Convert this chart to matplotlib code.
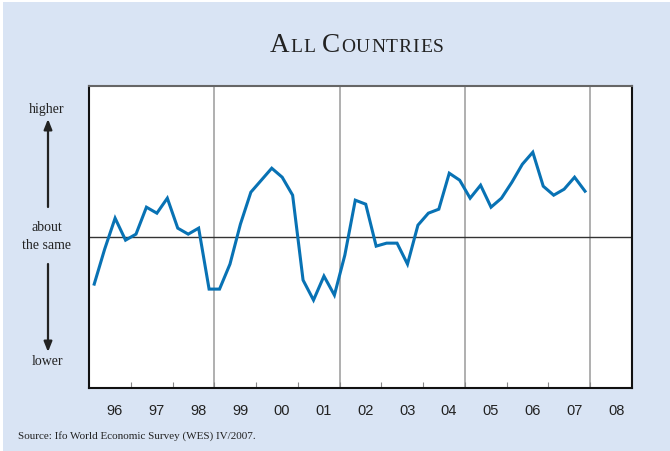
import matplotlib
matplotlib.use("Agg")
import matplotlib.pyplot as plt
import numpy as np
from matplotlib.patches import Rectangle, FancyArrowPatch

# Quarterly survey results, 1996 Q1 - 2007 Q4 (0 = about the same)
start_year = 1996
climate = [
    -47, -12, 19, -3, 3, 30, 24, 39,
    9, 3, 9, -52, -52, -27, 13, 45,
    57, 69, 60, 42, -43, -63, -39, -58,
    -18, 37, 33, -9, -6, -6, -27, 12,
    24, 28, 64, 57, 39, 52, 30, 39,
    55, 73, 85, 51, 42, 48, 60, 46,
]
year_labels = ["96", "97", "98", "99", "00", "01", "02", "03",
               "04", "05", "06", "07", "08"]
divider_years = [1999, 2002, 2005, 2008]

W, H = 670, 452
panel = "#d9e4f4"
fig = plt.figure(figsize=(W / 100, H / 100), dpi=100, facecolor=panel)
# thin white margin along the top and left edges
fig.patches.append(Rectangle((0, 1 - 3 / H), 1, 3 / H, transform=fig.transFigure,
                             facecolor="white", edgecolor="none", zorder=-5))
fig.patches.append(Rectangle((0, 0), 3 / W, 1, transform=fig.transFigure,
                             facecolor="white", edgecolor="none", zorder=-5))

left, right, top, bottom = 89, 632, 87.3, 389
ax = fig.add_axes([left / W, 1 - bottom / H, (right - left) / W, (bottom - top) / H])
ax.set_facecolor("white")

x = start_year + (np.arange(len(climate)) + 0.5) / 4
ax.set_xlim(1996, 2009)
ax.set_ylim(-151, 151)

for yr in divider_years:
    ax.axvline(yr, color="#9a9a9a", lw=1.1, zorder=1)
ax.axhline(0, color="#333333", lw=1.0, zorder=1)

ax.plot(x, climate, color="#0872b4", lw=2.2, solid_joinstyle="miter", zorder=3)

# frame
for side in ["left", "bottom", "right"]:
    ax.spines[side].set_color("#111111")
    ax.spines[side].set_linewidth(1.5)
ax.spines["top"].set_color("#666666")
ax.spines["top"].set_linewidth(1.5)

ax.set_yticks([])
ax.set_xticks(np.arange(1997, 2009))
ax.tick_params(axis="x", direction="in", length=4, width=0.8, color="#888888",
               labelbottom=False)

sans = "Liberation Sans"
serif = "Liberation Serif"
for i, lab in enumerate(year_labels):
    ax.text(start_year + i + 0.62, -0.072, lab, transform=ax.get_xaxis_transform(),
            ha="center", va="center", fontsize=10.5, family=sans, color="#222222")


def fy(py):
    return 1 - py / H


# left-hand scale description
for label, py in [("higher", 109), ("about", 228), ("the same", 245.5), ("lower", 361.5)]:
    fig.text(47 / W, fy(py), label, ha="center", va="center", fontsize=10,
             family=serif, color="#222222")
arrow_kw = dict(arrowstyle="-|>,head_length=0.55,head_width=0.22", color="#222222",
                lw=1.6, shrinkA=0, shrinkB=0, mutation_scale=11,
                transform=fig.transFigure)
fig.add_artist(FancyArrowPatch((48 / W, fy(208)), (48 / W, fy(120)), **arrow_kw))
fig.add_artist(FancyArrowPatch((48 / W, fy(265)), (48 / W, fy(353)), **arrow_kw))

# title in small capitals, drawn letter by letter with a little tracking
big, small = 19.5, 14.0
title_chars = [("A", big), ("L", small), ("L", small), (" ", small), ("C", big)] + \
              [(c, small) for c in "OUNTRIES"]
tracking = 0.9
renderer = fig.canvas.get_renderer()
texts, widths = [], []
for ch, size in title_chars:
    t = fig.text(0, fy(52.3), ch, fontsize=size, family=serif, va="baseline",
                 ha="left", color="#222222")
    texts.append(t)
for t in texts:
    bb = t.get_window_extent(renderer=renderer)
    w = bb.width
    if t.get_text() == " ":
        w = t.get_fontsize() * 100 / 72 * 0.25
    widths.append(w + tracking)
total = sum(widths) - tracking
xpos = 357 - total / 2
for t, w in zip(texts, widths):
    t.set_x(xpos / W)
    xpos += w

fig.text(18 / W, fy(436), "Source: Ifo World Economic Survey (WES) IV/2007.",
         ha="left", va="center", fontsize=8.0, family=serif, color="#222222")

fig.savefig("out.png", dpi=100, facecolor=fig.get_facecolor())
